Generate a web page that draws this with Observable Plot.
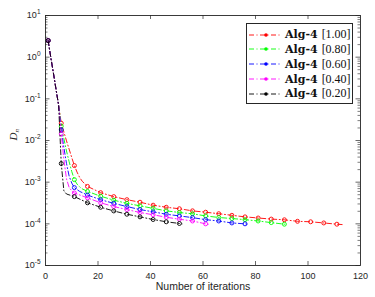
<!DOCTYPE html>
<html><head><meta charset="utf-8">
<script src="https://cdn.jsdelivr.net/npm/d3@7"></script>
<script src="https://cdn.jsdelivr.net/npm/@observablehq/plot@0.6"></script>
<style>
body{margin:0;background:#fff;}
#wrap{position:relative;width:375px;height:297px;overflow:hidden;}
.leg{position:absolute;left:246px;top:23px;width:107px;height:81px;border:1px solid #262626;background:#fff;box-sizing:border-box;}
.row{position:absolute;left:2px;height:14px;display:flex;align-items:center;white-space:nowrap;}
.alg{font-family:"DejaVu Serif",serif;font-weight:bold;font-size:11px;color:#111;margin-left:3px;}
.val{font-family:"Liberation Serif",serif;font-size:12px;color:#111;margin-left:4px;}
</style></head><body><div id="wrap"></div>
<script>
// ---- data ----
const labels = ["1.00", "0.80", "0.60", "0.40", "0.20"];
const colors = ["#ff0000", "#00ff00", "#0000ff", "#ff00ff", "#000000"];

const iter100 = [1,2,3,4,5,6,7,8,9,10,11,12,13,14,16,21,26,31,36,41,46,51,56,61,66,71,76,81,86,91,96,101,106,111,113];
const dn100 = [2.5,1.0,0.42,0.17,0.07,0.026,0.016,0.0098,0.0062,0.0039,0.0025,0.00175,0.0013,0.00105,
  0.00079,0.00056,0.00045,0.00038,0.00033,0.00028,0.00025,0.00023,0.000205,0.00019,0.000175,0.00016,0.000147,0.000138,0.00013,0.000125,0.000115,0.000112,0.000105,0.000098,0.000096];

const iter080 = [1,2,3,4,5,6,7,8,9,10,11,12,13,14,16,21,26,31,36,41,46,51,56,61,66,71,76,81,86,91,92];
const dn080 = [2.5,1.0,0.42,0.17,0.07,0.022,0.011,0.0056,0.0031,0.0018,0.00115,0.0009,0.00077,0.00069,
  0.0006,0.00046,0.00037,0.00031,0.00027,0.000235,0.000205,0.000187,0.000174,0.000155,0.000142,0.000134,0.000126,0.000117,0.000107,0.000098,0.000096];

const iter060 = [1,2,3,4,5,6,7,8,9,10,11,13,16,21,26,31,36,41,46,51,56,61,66,71,76,77];
const dn060 = [2.5,1.0,0.42,0.17,0.07,0.018,0.0068,0.0028,0.0014,0.00095,0.00074,0.0006,0.00049,
  0.00038,0.00031,0.00026,0.00022,0.000194,0.00017,0.000155,0.000141,0.000126,0.000117,0.000105,0.0001,0.000098];

const iter040 = [1,2,3,4,5,6,7,8,9,10,11,16,21,26,31,36,41,46,51,56,61,62];
const dn040 = [2.5,1.0,0.42,0.17,0.07,0.0145,0.0035,0.0012,0.00075,0.00062,0.00055,
  0.00042,0.00032,0.00026,0.00022,0.000187,0.000165,0.000144,0.000129,0.000117,0.0001,0.000098];

const iter020 = [1,2,3,4,5,6,7,8,11,16,21,26,31,36,41,46,51,52];
const dn020 = [2.5,1.0,0.42,0.17,0.07,0.0028,0.00062,0.00052,
  0.00045,0.00032,0.00025,0.000204,0.00017,0.000147,0.000127,0.000112,0.000102,0.0001];

const xTicks = [0, 20, 40, 60, 80, 100, 120];
const yExponents = [1, 0, -1, -2, -3, -4, -5];
const xLabel = "Number of iterations";
const yLabel = "D|n";
const legendName = "Alg-4";

// ---- build ----
const iters = [iter100, iter080, iter060, iter040, iter020];
const dns = [dn100, dn080, dn060, dn040, dn020];
const series = labels.map((lab, i) => iters[i].map((it, j) => ({label: lab, iter: it, dn: dns[i][j], color: colors[i]})));

const W = 375, H = 297, mT = 15, mB = 32, mL = 45, mR = 15;
const innerW = W - mL - mR, innerH = H - mT - mB;
const yTicks = yExponents.map(e => Math.pow(10, e));
const yMinor = [];
for (let e = -5; e < 1; e++) for (let m = 2; m <= 9; m++) yMinor.push(m * Math.pow(10, e));
const xInner = xTicks.slice(1, -1);
const ax = "#262626";
const dash = "5,2.5,1,2.5";

const marks = [];
series.forEach(rows => {
  marks.push(Plot.line(rows, {x: "iter", y: "dn", stroke: "color", strokeWidth: 0.9, strokeDasharray: dash}));
  marks.push(Plot.dot(rows.filter(d => (d.iter - 1) % 5 === 0), {x: "iter", y: "dn", stroke: "color", r: 2, strokeWidth: 0.9}));
});

const svg = Plot.plot({
  width: W, height: H,
  marginTop: mT, marginBottom: mB, marginLeft: mL, marginRight: mR,
  style: {fontFamily: "'Liberation Sans', Arial, sans-serif", background: "white"},
  x: {domain: [0, 120]},
  y: {type: "log", domain: [1e-5, 10]},
  color: {type: "identity"},
  marks: [
    ...marks,
    Plot.tickX(xInner, {x: d => d, insetTop: innerH - 4, stroke: ax, strokeWidth: 0.7}),
    Plot.tickX(xInner, {x: d => d, insetBottom: innerH - 4, stroke: ax, strokeWidth: 0.7}),
    Plot.tickY(yTicks, {y: d => d, insetRight: innerW - 4.5, stroke: ax, strokeWidth: 0.7}),
    Plot.tickY(yTicks, {y: d => d, insetLeft: innerW - 4.5, stroke: ax, strokeWidth: 0.7}),
    Plot.tickY(yMinor, {y: d => d, insetRight: innerW - 2.5, stroke: ax, strokeWidth: 0.6}),
    Plot.tickY(yMinor, {y: d => d, insetLeft: innerW - 2.5, stroke: ax, strokeWidth: 0.6}),
    Plot.frame({stroke: ax, strokeWidth: 0.9}),
    Plot.axisX({ticks: xTicks, tickSize: 0, tickPadding: 7, label: null, fontSize: 9, color: ax, tickFormat: d => String(d)}),
    Plot.axisY({ticks: yTicks, tickSize: 0, tickPadding: 5, label: null, fontSize: 9, color: ax,
      tickFormat: d => "10|" + Math.round(Math.log10(d))}),
    Plot.text([xLabel], {text: d => d, frameAnchor: "bottom", dy: 24, fontSize: 10.5, fill: ax}),
    Plot.text([yLabel], {text: d => d, frameAnchor: "left", dx: -32, rotate: -90, fontSize: 11, fill: ax})
  ]
});

d3.select(svg).selectAll("text").each(function () {
  const t = this.textContent;
  let m = /^10\|(-?\d+)$/.exec(t);
  if (m) {
    this.textContent = "10";
    d3.select(this).append("tspan").attr("dy", "-4").attr("font-size", "6.5").text(m[1]);
    return;
  }
  m = /^([A-Za-z])\|([a-z])$/.exec(t);
  if (m) {
    this.textContent = "";
    const s = d3.select(this).attr("font-family", "'Liberation Serif', serif");
    s.append("tspan").attr("font-style", "italic").text(m[1]);
    s.append("tspan").attr("font-style", "italic").attr("font-size", "7").attr("dy", "2").text(m[2]);
  }
});

const wrap = document.getElementById("wrap");
wrap.appendChild(svg);

const leg = document.createElement("div");
leg.className = "leg";
labels.forEach((lab, i) => {
  const row = document.createElement("div");
  row.className = "row";
  row.style.top = (3.5 + i * 14.85) + "px";
  row.innerHTML =
    `<svg width="33" height="10"><line x1="0" x2="33" y1="5" y2="5" stroke="${colors[i]}" stroke-width="0.9" stroke-dasharray="${dash}"/>` +
    `<circle cx="17" cy="5" r="1.8" fill="${colors[i]}"/></svg>` +
    `<span class="alg">${legendName}</span><span class="val">[${lab}]</span>`;
  leg.appendChild(row);
});
wrap.appendChild(leg);
</script>
</body></html>
